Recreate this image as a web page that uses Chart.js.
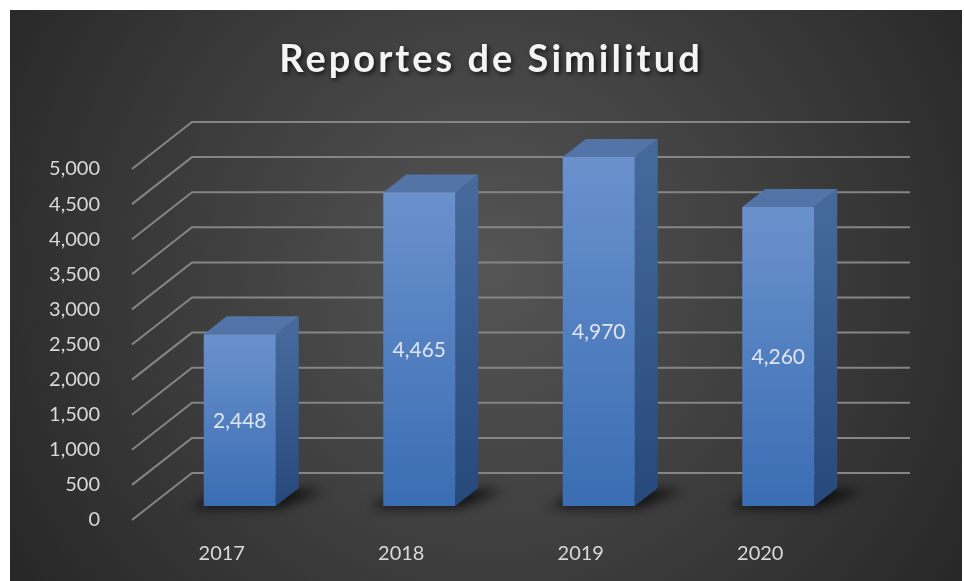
<!DOCTYPE html>
<html>
<head>
<meta charset="utf-8">
<script src="https://cdn.jsdelivr.net/npm/chart.js@4/dist/chart.umd.min.js"></script>
<style>
    html, body { margin: 0; padding: 0; background: #ffffff; }
    #wrap { width: 964px; height: 581px; position: relative; }
</style>
</head>
<body>
<div id="wrap"><canvas id="reportChart"></canvas></div>
<script>
const years = ["2017", "2018", "2019", "2020"]
const reports = [2448, 4465, 4970, 4260]
const yTicks = [0, 500, 1000, 1500, 2000, 2500, 3000, 3500, 4000, 4500, 5000]
const chartTitle = "Reportes de Similitud"

// 3d look: back wall offset and bar offset/depth (pixels)
const wall = { dx: 60, dy: -47 }
const barShift = { dx: 18, dy: -14 }
const barDepth = { dx: 23, dy: -18 }

const fmt = v => v.toLocaleString("en-US")

const backdrop = {
    id: "backdrop",
    beforeDraw(chart) {
        const ctx = chart.ctx
        ctx.save()
        let g = ctx.createRadialGradient(490, 270, 0, 490, 270, 620)
        g.addColorStop(0, "#555555")
        g.addColorStop(1, "#232323")
        ctx.fillStyle = g
        ctx.fillRect(10, 10, 952, 571)

        // title, with letter spacing and a soft shadow
        ctx.font = "bold 38px Lato"
        ctx.letterSpacing = "3px"
        ctx.textAlign = "center"
        ctx.textBaseline = "alphabetic"
        ctx.shadowColor = "rgba(0,0,0,0.75)"
        ctx.shadowBlur = 5
        ctx.shadowOffsetX = 2
        ctx.shadowOffsetY = 2
        ctx.fillStyle = "#f4f4f4"
        ctx.fillText(chartTitle, 491, 72)
        ctx.restore()
    }
}

const bars3d = {
    id: "bars3d",
    beforeDatasetsDraw(chart) {
        const ctx = chart.ctx
        const y = chart.scales.y
        const area = chart.chartArea

        // grid: slanted floor/side lines + back wall lines
        ctx.save()
        ctx.strokeStyle = "#858585"
        ctx.lineWidth = 2
        for (let v of yTicks) {
            let py = y.getPixelForValue(v)
            ctx.beginPath()
            ctx.moveTo(area.left, py)
            ctx.lineTo(area.left + wall.dx, py + wall.dy)
            ctx.lineTo(area.right + wall.dx, py + wall.dy)
            ctx.stroke()
        }
        ctx.restore()

        ctx.save()
        ctx.translate(barShift.dx, barShift.dy)
        const meta = chart.getDatasetMeta(0)
        meta.data.forEach(bar => {
            let x0 = bar.x - bar.width / 2
            let x1 = bar.x + bar.width / 2
            let top = bar.y
            let base = bar.base

            // shadow on the floor
            ctx.save()
            ctx.filter = "blur(6px)"
            ctx.fillStyle = "rgba(0,0,0,0.75)"
            ctx.beginPath()
            ctx.moveTo(x0 - 14, base + 2)
            ctx.lineTo(x1 + 4, base + 2)
            ctx.lineTo(x1 + barDepth.dx + 26, base + barDepth.dy + 2)
            ctx.lineTo(x0 + barDepth.dx, base + barDepth.dy)
            ctx.closePath()
            ctx.fill()
            ctx.restore()

            // side face
            let gs = ctx.createLinearGradient(0, top, 0, base)
            gs.addColorStop(0, "#46699c")
            gs.addColorStop(1, "#26487a")
            ctx.fillStyle = gs
            ctx.beginPath()
            ctx.moveTo(x1, top)
            ctx.lineTo(x1 + barDepth.dx, top + barDepth.dy)
            ctx.lineTo(x1 + barDepth.dx, base + barDepth.dy)
            ctx.lineTo(x1, base)
            ctx.closePath()
            ctx.fill()

            // top face
            ctx.fillStyle = "#5274a6"
            ctx.beginPath()
            ctx.moveTo(x0, top)
            ctx.lineTo(x0 + barDepth.dx, top + barDepth.dy)
            ctx.lineTo(x1 + barDepth.dx, top + barDepth.dy)
            ctx.lineTo(x1, top)
            ctx.closePath()
            ctx.fill()
        })
    },
    afterDatasetsDraw(chart) {
        const ctx = chart.ctx
        ctx.restore()

        // values in the middle of the front faces
        const meta = chart.getDatasetMeta(0)
        ctx.save()
        ctx.font = "21px Lato"
        ctx.fillStyle = "#dfe5ef"
        ctx.textAlign = "center"
        ctx.textBaseline = "middle"
        meta.data.forEach((bar, i) => {
            ctx.fillText(fmt(reports[i]), bar.x + barShift.dx, (bar.y + bar.base) / 2 + barShift.dy + 1)
        })
        ctx.restore()
    }
}

Chart.defaults.font.family = "Lato, sans-serif"
Chart.defaults.font.size = 20
Chart.defaults.color = "#d9d9d9"

new Chart(document.getElementById("reportChart"), {
    type: "bar",
    data: {
        labels: years,
        datasets: [{
            label: "Reportes",
            data: reports,
            clip: false,
            borderWidth: 0,
            categoryPercentage: 1,
            barPercentage: 0.401,
            backgroundColor: function(context) {
                const chart = context.chart
                if (!chart.chartArea) return "#4a7cc0"
                const y = chart.scales.y
                let top = y.getPixelForValue(context.raw)
                let base = y.getPixelForValue(0)
                let g = chart.ctx.createLinearGradient(0, top, 0, base)
                g.addColorStop(0, "#6a91cc")
                g.addColorStop(1, "#3a6db4")
                return g
            }
        }]
    },
    options: {
        responsive: true,
        maintainAspectRatio: false,
        animation: false,
        locale: "en-US",
        layout: {
            padding: { left: 10, top: 169, right: 114, bottom: 11 }
        },
        plugins: {
            legend: { display: false },
            title: { display: false },
            tooltip: { enabled: false }
        },
        scales: {
            x: {
                grid: { display: false },
                border: { display: false },
                ticks: { padding: 14, color: "#d9d9d9" },
                afterFit(scale) { scale.height = 50 }
            },
            y: {
                min: 0,
                max: 5000,
                grid: { display: false },
                border: { display: false },
                ticks: {
                    stepSize: 500,
                    padding: 24,
                    color: "#d9d9d9",
                    callback: v => fmt(v)
                },
                afterFit(scale) { scale.width = 122 }
            }
        }
    },
    plugins: [backdrop, bars3d]
})
</script>
</body>
</html>
